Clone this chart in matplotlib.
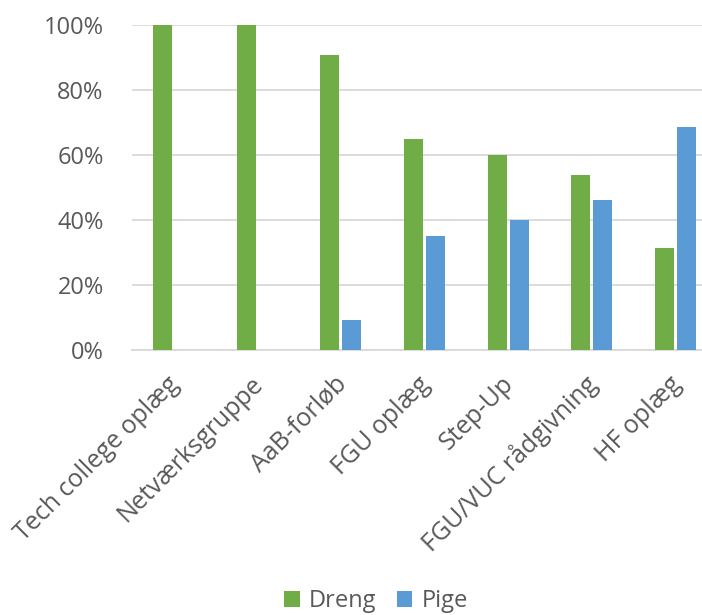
import matplotlib
matplotlib.use("Agg")
import matplotlib.pyplot as plt
import matplotlib.transforms as mtrans
import numpy as np
from matplotlib.ticker import FuncFormatter

categories = ["Tech college oplæg", "Netværksgruppe", "AaB-forløb", "FGU oplæg",
              "Step-Up", "FGU/VUC rådgivning", "HF oplæg"]
dreng = [100, 100, 90.9, 65, 60, 53.8, 31.3]
pige = [0, 0, 9.1, 35, 40, 46.2, 68.7]
series_names = ["Dreng", "Pige"]
y_ticks = [0, 20, 40, 60, 80, 100]

plt.rcParams['font.family'] = ['Open Sans', 'DejaVu Sans']
text_color = "#595959"

fig = plt.figure(figsize=(7.02, 6.15), dpi=100)
W, H = 702, 615
left_px, right_px, top_px, bottom_px = 131.5, 702, 25, 350
ax = fig.add_axes([left_px / W, 1 - bottom_px / H, (right_px - left_px) / W, (bottom_px - top_px) / H])

x = np.arange(len(categories))
bw = 0.227
gap = 0.036
ax.bar(x - (bw + gap) / 2, dreng, bw, color="#70AD47", label=series_names[0], zorder=3)
ax.bar(x + (bw + gap) / 2, pige, bw, color="#5B9BD5", label=series_names[1], zorder=3)

ax.set_ylim(0, 100)
ax.set_xlim(-0.5, -0.5 + (right_px - left_px) / 83.7)
ax.set_yticks(y_ticks)
ax.yaxis.set_major_formatter(FuncFormatter(lambda v, p: f"{int(v)}%"))
ax.grid(axis="y", color="#D9D9D9", linewidth=1.3, zorder=0)
ax.set_axisbelow(True)
for s in ["top", "right", "left"]:
    ax.spines[s].set_visible(False)
ax.spines["bottom"].set_color("#D9D9D9")
ax.spines["bottom"].set_linewidth(1.3)
ax.tick_params(axis="y", length=0, labelsize=17, colors=text_color, pad=20)
ax.set_xticks(x)
ax.set_xticklabels(categories, rotation=45, ha="right", va="center", rotation_mode="anchor")
ax.tick_params(axis="x", length=0, labelsize=18, colors=text_color, pad=22)

offset = mtrans.ScaledTranslation(2 / 100, 0, fig.dpi_scale_trans)
for lbl in ax.get_xticklabels():
    lbl.set_transform(lbl.get_transform() + offset)

fig.legend(loc="center", bbox_to_anchor=(376 / W, 1 - 601 / H), ncol=2, frameon=False,
           fontsize=17, labelcolor=text_color, handlelength=0.65, handleheight=0.65,
           handletextpad=0.4, columnspacing=0.85, borderaxespad=0)

fig.savefig("out.png", dpi=100)
